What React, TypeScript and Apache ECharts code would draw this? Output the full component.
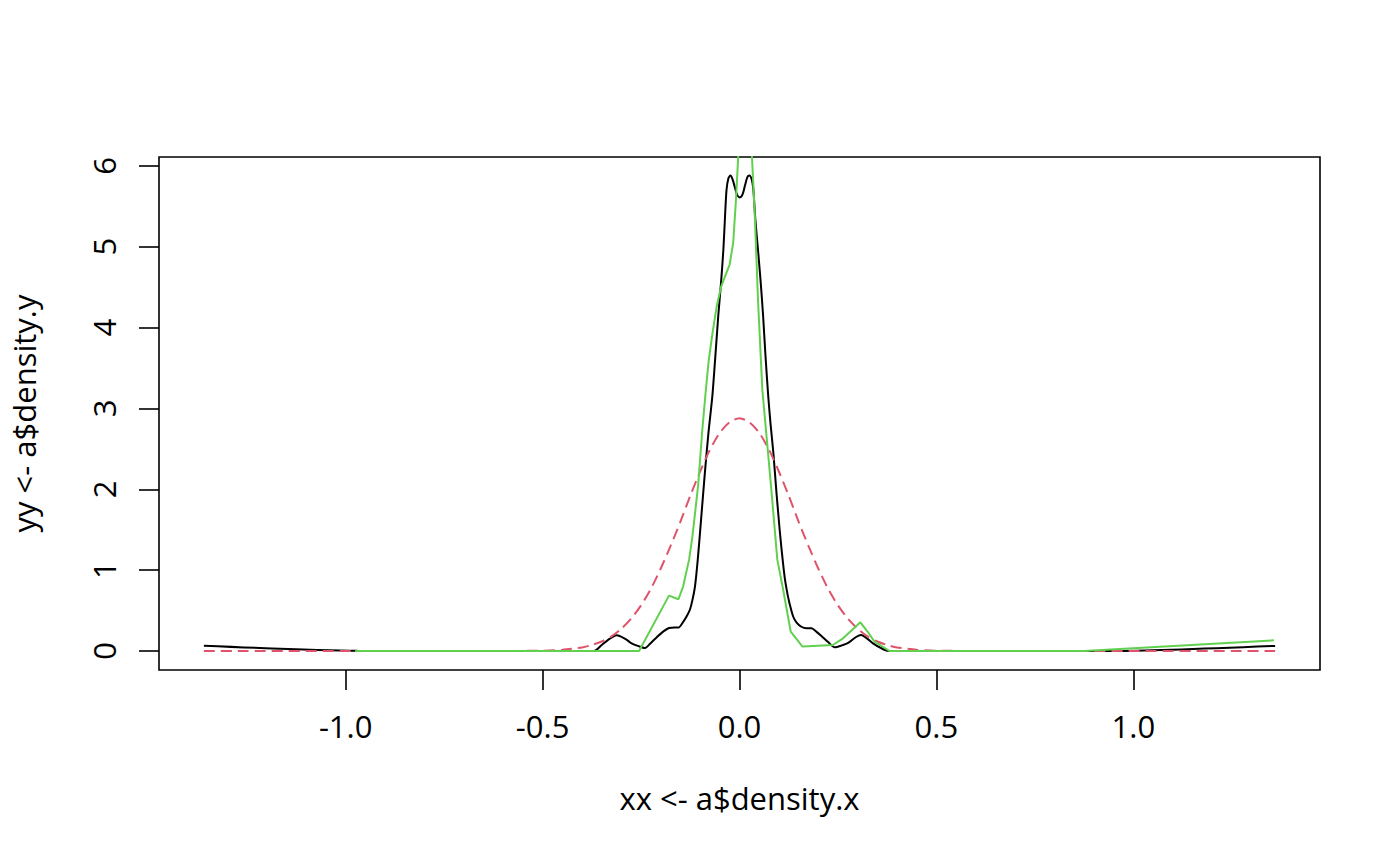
import React, { useEffect, useRef } from "react";
import * as echarts from "echarts";

const xTicks = [-1.0, -0.5, 0.0, 0.5, 1.0];
const yTicks = [0, 1, 2, 3, 4, 5, 6];

const blackX = [-1.36, -0.97, -0.6, -0.37, -0.35, -0.33, -0.312, -0.29, -0.274, -0.256, -0.24, -0.225, -0.21, -0.194, -0.179, -0.165, -0.155, -0.143, -0.133, -0.126, -0.12, -0.113, -0.106, -0.098, -0.088, -0.079, -0.069, -0.062, -0.054, -0.047, -0.041, -0.037, -0.033, -0.028, -0.023, -0.018, -0.012, -0.006, 0.001, 0.008, 0.014, 0.02, 0.025, 0.03, 0.035, 0.04, 0.047, 0.054, 0.06, 0.066, 0.073, 0.079, 0.086, 0.094, 0.102, 0.108, 0.115, 0.122, 0.128, 0.136, 0.145, 0.157, 0.17, 0.183, 0.195, 0.208, 0.225, 0.242, 0.26, 0.276, 0.295, 0.309, 0.325, 0.339, 0.358, 0.377, 0.6, 0.943, 1.36];
const blackY = [0.066, 0.003, 0, 0, 0.074, 0.15, 0.195, 0.15, 0.095, 0.06, 0.037, 0.1, 0.17, 0.24, 0.285, 0.29, 0.29, 0.36, 0.44, 0.51, 0.62, 0.8, 1.13, 1.6, 2.2, 2.69, 3.15, 3.6, 4.14, 4.55, 4.96, 5.35, 5.7, 5.85, 5.88, 5.84, 5.74, 5.64, 5.61, 5.65, 5.76, 5.86, 5.88, 5.85, 5.72, 5.35, 4.96, 4.55, 4.14, 3.65, 3.15, 2.8, 2.45, 1.95, 1.5, 1.2, 0.9, 0.7, 0.57, 0.43, 0.35, 0.3, 0.28, 0.28, 0.24, 0.186, 0.11, 0.045, 0.07, 0.1, 0.17, 0.198, 0.15, 0.095, 0.04, 0.003, 0, 0, 0.063];

const redX = [-1.36, -0.6, -0.5, -0.45, -0.4, -0.375, -0.35, -0.325, -0.3, -0.275, -0.25, -0.225, -0.2, -0.175, -0.15, -0.125, -0.1, -0.075, -0.05, -0.025, 0, 0.025, 0.05, 0.075, 0.1, 0.125, 0.15, 0.175, 0.2, 0.225, 0.25, 0.275, 0.3, 0.325, 0.35, 0.375, 0.4, 0.45, 0.5, 0.6, 1.36];
const redY = [0, 0.0003, 0.004, 0.015, 0.044, 0.074, 0.118, 0.18, 0.276, 0.4, 0.565, 0.77, 1.02, 1.3, 1.6, 1.92, 2.22, 2.49, 2.7, 2.83, 2.88, 2.83, 2.7, 2.49, 2.22, 1.92, 1.6, 1.3, 1.02, 0.77, 0.565, 0.4, 0.276, 0.18, 0.118, 0.074, 0.044, 0.015, 0.004, 0.0003, 0];

const greenX = [-0.976, -0.255, -0.179, -0.155, -0.143, -0.128, -0.12, -0.113, -0.105, -0.095, -0.086, -0.078, -0.068, -0.058, -0.047, -0.037, -0.025, -0.016, -0.009, 0.015, 0.039, 0.047, 0.058, 0.081, 0.096, 0.111, 0.13, 0.16, 0.237, 0.263, 0.307, 0.328, 0.343, 0.381, 0.875, 1.357];
const greenY = [0, 0, 0.685, 0.64, 0.8, 1.13, 1.4, 1.7, 2.05, 2.7, 3.2, 3.6, 3.95, 4.26, 4.5, 4.63, 4.78, 5.05, 5.58, 7.8, 5.37, 4.34, 3.23, 1.99, 1.13, 0.755, 0.24, 0.055, 0.074, 0.157, 0.355, 0.22, 0.115, 0, 0, 0.132];

const zip = (xs: number[], ys: number[]) => xs.map((x, i) => [x, ys[i]]);

const FONT = "Open Sans";
const FS = 31;

export default function App() {
  const ref = useRef<HTMLDivElement>(null);
  useEffect(() => {
    const chart = echarts.init(ref.current!, null, { renderer: "svg" });
    chart.setOption({
      animation: false,
      backgroundColor: "#ffffff",
      grid: {
        left: 157,
        top: 157,
        width: 1163,
        height: 513,
        show: true,
        borderColor: "#000",
        borderWidth: 1.6,
        backgroundColor: "transparent",
      },
      xAxis: {
        type: "value",
        min: -1.474,
        max: 1.474,
        axisLine: { show: false, onZero: false },
        splitLine: { show: false },
        axisTick: {
          show: true,
          length: 20,
          customValues: xTicks,
          lineStyle: { color: "#000", width: 1.6 },
        },
        axisLabel: {
          customValues: xTicks,
          formatter: (v: number) => v.toFixed(1),
          margin: 40,
          fontSize: FS,
          color: "#000",
          fontFamily: FONT,
        },
        name: "xx <- a$density.x",
        nameLocation: "middle",
        nameGap: 112,
        nameTextStyle: { fontSize: FS, color: "#000", fontFamily: FONT },
      },
      yAxis: {
        type: "value",
        min: -0.235,
        max: 6.11,
        axisLine: { show: false, onZero: false },
        splitLine: { show: false },
        axisTick: {
          show: true,
          length: 20,
          customValues: yTicks,
          lineStyle: { color: "#000", width: 1.6 },
        },
        axisLabel: {
          customValues: yTicks,
          formatter: (v: number) => String(v),
          rotate: 90,
          margin: 40,
          fontSize: FS,
          color: "#000",
          fontFamily: FONT,
        },
        name: "yy <- a$density.y",
        nameLocation: "middle",
        nameGap: 120,
        nameRotate: 90,
        nameTextStyle: { fontSize: FS, color: "#000", fontFamily: FONT },
      },
      series: [
        {
          type: "line",
          data: zip(blackX, blackY),
          showSymbol: false,
          smooth: 0.25,
          lineStyle: { color: "#000000", width: 2 },
          z: 2,
        },
        {
          type: "line",
          data: zip(redX, redY),
          showSymbol: false,
          smooth: 0.25,
          lineStyle: { color: "#DF536B", width: 2, type: [11, 6] },
          z: 3,
        },
        {
          type: "line",
          data: zip(greenX, greenY),
          showSymbol: false,
          lineStyle: { color: "#61D04F", width: 2 },
          z: 4,
        },
      ],
    });
    return () => chart.dispose();
  }, []);
  return (
    <div
      ref={ref}
      style={{ position: "fixed", left: 0, top: 0, width: 1400, height: 866, background: "#fff" }}
    />
  );
}
